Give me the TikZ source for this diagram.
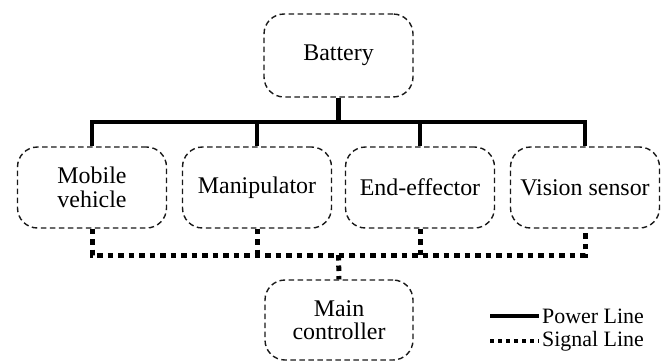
\documentclass[tikz,border=0pt]{standalone}
\usepackage{fontspec}
\setmainfont{Liberation Serif}
\begin{document}
\begin{tikzpicture}[x=1bp,y=-1bp,
  unit/.style={draw=black!90, line width=1.4bp, dash pattern=on 5.5bp off 3.5bp,
    rounded corners=20bp, minimum width=149bp, minimum height=81bp,
    align=center, inner sep=0pt, font=\fontsize{24}{23.5}\selectfont},
  power/.style={line width=4.5bp, line join=miter},
  signal/.style={line width=5bp, dash pattern=on 5.5bp off 5bp},
  signalleg/.style={line width=4bp, dash pattern=on 4bp off 4bp},
  legtext/.style={font=\fontsize{22}{24}\selectfont, inner sep=0pt, anchor=west}]
\useasboundingbox (0,0) rectangle (668,362);
\node[unit, minimum height=83bp] (bat) at (338.5,55.5) {Battery};
\node[unit] (mv) at (92,187.5) {Mobile\\vehicle};
\node[unit] (man) at (257,187.5) {Manipulator};
\node[unit] (ee) at (420,187.5) {End-effector};
\node[unit] (vs) at (585,187.5) {Vision sensor};
\node[unit, minimum width=148bp, minimum height=80bp] (mc) at (339,320) {Main\\controller};
\coordinate (pbus) at (338.5,122);
\coordinate (sbus) at (338.5,255);
\draw[power] (bat.south) -- (pbus);
\draw[power] (mv.north) |- (pbus) -| (vs.north);
\draw[power] (man.north) -- (man.north |- pbus);
\draw[power] (ee.north) -- (ee.north |- pbus);
\draw[signal] (mv.south) |- (sbus) -| (vs.south);
\draw[signal] (man.south) -- (man.south |- sbus);
\draw[signal] (ee.south) -- (ee.south |- sbus);
\draw[signal] (sbus) -- (mc.north);
\coordinate (lp1) at (490,316);
\coordinate (lp2) at (539,316);
\coordinate (ls1) at (490,341);
\coordinate (ls2) at (539,341);
\draw[power] (lp1) -- (lp2);
\node[legtext] (lpt) at ([xshift=3bp]lp2) {Power Line};
\draw[signalleg] (ls1) -- (ls2);
\node[legtext] (lst) at ([xshift=3bp]ls2) {Signal Line};
\end{tikzpicture}
\end{document}
